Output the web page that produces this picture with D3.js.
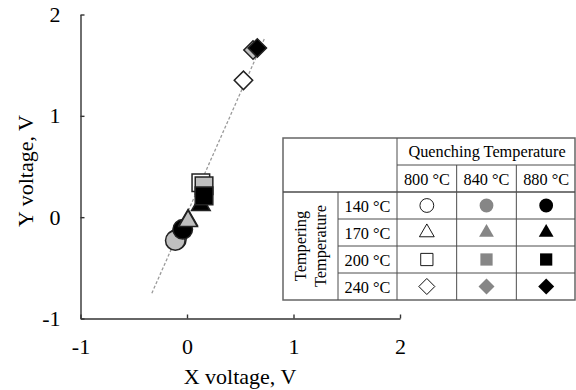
<!DOCTYPE html>
<html>
<head>
<meta charset="utf-8">
<script src="https://cdn.jsdelivr.net/npm/d3@7"></script>
<style>
  body { margin: 0; background: #fff; }
</style>
</head>
<body>
<script>
// Data
const tempering = ["140 °C", "170 °C", "200 °C", "240 °C"];
const quenching = ["800 °C", "840 °C", "880 °C"];
// rows = tempering, cols = quenching
const xVoltage = [
  [-0.10, -0.11, -0.04],
  [0.01, 0.01, 0.13],
  [0.13, 0.16, 0.16],
  [0.53, 0.62, 0.66]
];
const yVoltage = [
  [-0.22, -0.23, -0.12],
  [-0.03, -0.04, 0.12],
  [0.34, 0.31, 0.21],
  [1.35, 1.65, 1.67]
];
const trendX = [-0.33, 0.73];
const trendY = [-0.75, 1.77];
const xTicks = [-1, 0, 1, 2];
const yTicks = [-1, 0, 1, 2];

// Parameters
const w = 576;
const h = 390;
const font = "'Liberation Serif', 'Times New Roman', serif";
const shapes = [d3.symbolCircle, d3.symbolTriangle, d3.symbolSquare, d3.symbolSquare];
const rotate = [0, 0, 0, 45];
const chartSize = [300, 150, 310, 170];
const legendSize = [150, 95, 150, 128];
const chartFill = ["#ffffff", "#bfbfbf", "#000000"];
const legendFill = ["#ffffff", "#868686", "#000000"];
const fmt = (d) => (d < 0 ? "-" + Math.abs(d) : String(d));

const svg = d3.select("body").append("svg").attr("width", w).attr("height", h)
  .style("font-family", font);

// Scales
const xScale = d3.scaleLinear().domain([-1, 2]).range([80.5, 400]);
const yScale = d3.scaleLinear().domain([-1, 2]).range([318.5, 14.5]);

// Axes
const xAxis = d3.axisBottom(xScale).tickValues(xTicks).tickFormat(fmt)
  .tickSizeInner(-4).tickSizeOuter(0).tickPadding(20);
const yAxis = d3.axisLeft(yScale).tickValues(yTicks).tickFormat(fmt)
  .tickSizeInner(-4).tickSizeOuter(0).tickPadding(20);

svg.append("g").attr("transform", "translate(0,318.5)").call(xAxis)
  .attr("font-family", null).attr("font-size", null)
  .call((g) => g.selectAll("text").style("font-size", "22px").style("font-family", font));
svg.append("g").attr("transform", "translate(80.5,0)").call(yAxis)
  .attr("font-family", null).attr("font-size", null)
  .call((g) => g.selectAll("text").style("font-size", "22px").style("font-family", font));
svg.selectAll(".domain, .tick line").attr("stroke", "#333").attr("stroke-width", 1.4);

svg.append("text").attr("x", 240).attr("y", 384).attr("text-anchor", "middle")
  .style("font-size", "22px").style("font-family", font).text("X voltage, V");
svg.append("text").attr("transform", "translate(33,171) rotate(-90)").attr("text-anchor", "middle")
  .style("font-size", "22px").style("font-family", font).text("Y voltage, V");

// Trend line
svg.append("line")
  .attr("x1", xScale(trendX[0])).attr("y1", yScale(trendY[0]))
  .attr("x2", xScale(trendX[1])).attr("y2", yScale(trendY[1]))
  .attr("stroke", "#9a9a9a").attr("stroke-width", 1.3).attr("stroke-dasharray", "3,2");

// Points
tempering.forEach((t, i) => {
  quenching.forEach((q, j) => {
    svg.append("path")
      .attr("d", d3.symbol().type(shapes[i]).size(chartSize[i])())
      .attr("transform", "translate(" + xScale(xVoltage[i][j]) + "," + yScale(yVoltage[i][j]) + ") rotate(" + rotate[i] + ")")
      .attr("fill", chartFill[j])
      .attr("stroke", "#222")
      .attr("stroke-width", 1.5);
  });
});

// Legend table
const tbl = svg.append("g").style("font-family", font).style("font-size", "16.3px");
const colX = d3.scaleBand().domain(quenching).range([397, 576]);
const rowY = d3.scaleBand().domain(tempering).range([192, 300]);
const lineC = "#4d4d4d";
const hl = (x1, x2, y, sw) => tbl.append("line").attr("x1", x1).attr("x2", x2).attr("y1", y).attr("y2", y).attr("stroke", lineC).attr("stroke-width", sw || 1);
const vl = (x, y1, y2, sw) => tbl.append("line").attr("x1", x).attr("x2", x).attr("y1", y1).attr("y2", y2).attr("stroke", lineC).attr("stroke-width", sw || 1);

tbl.append("rect").attr("x", 283).attr("y", 138).attr("width", 292).attr("height", 162)
  .attr("fill", "#fff").attr("stroke", "#666").attr("stroke-width", 1.5);
hl(397, 575, 165);
hl(283, 575, 192, 1.6);
tempering.slice(1).forEach((t) => hl(338, 575, rowY(t)));
vl(338, 192, 300);
vl(397, 138, 300);
quenching.slice(1).forEach((q) => vl(colX(q), 165, 300));

tbl.append("text").attr("x", 487).attr("y", 157).attr("text-anchor", "middle")
  .text("Quenching Temperature");
quenching.forEach((q) => {
  tbl.append("text").attr("x", colX(q) + colX.bandwidth() / 2).attr("y", 185)
    .attr("text-anchor", "middle").text(q);
});
tbl.append("text").attr("transform", "translate(306,246) rotate(-90)").attr("text-anchor", "middle")
  .text("Tempering");
tbl.append("text").attr("transform", "translate(326,246) rotate(-90)").attr("text-anchor", "middle")
  .text("Temperature");
tempering.forEach((t, i) => {
  const cy = rowY(t) + rowY.bandwidth() / 2;
  tbl.append("text").attr("x", 367.5).attr("y", cy + 6).attr("text-anchor", "middle").text(t);
  quenching.forEach((q, j) => {
    tbl.append("path")
      .attr("d", d3.symbol().type(shapes[i]).size(legendSize[i])())
      .attr("transform", "translate(" + (colX(q) + colX.bandwidth() / 2) + "," + cy + ") rotate(" + rotate[i] + ")")
      .attr("fill", legendFill[j])
      .attr("stroke", j === 0 ? "#000" : "none")
      .attr("stroke-width", 0.9);
  });
});
</script>
</body>
</html>
